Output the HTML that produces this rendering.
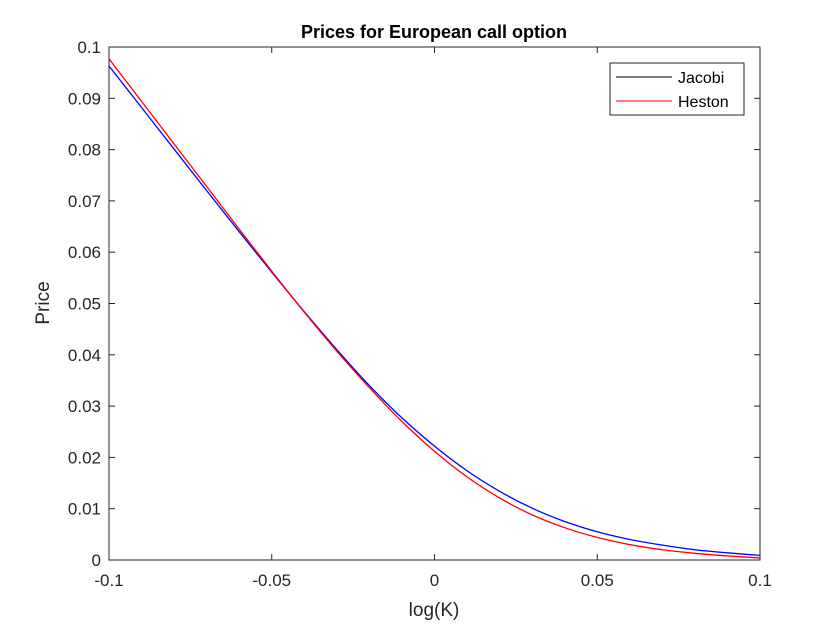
<!DOCTYPE html>
<html><head><meta charset="utf-8"><style>
body{margin:0;background:#fff;width:840px;height:630px;overflow:hidden}
text{font-family:"Liberation Sans",Arial,sans-serif;fill:#262626}
</style></head><body>
<svg id="c" width="840" height="630" xmlns="http://www.w3.org/2000/svg"></svg>
<script>
const xs=[-0.1,-0.09,-0.08,-0.07,-0.06,-0.05,-0.04,-0.03,-0.02,-0.01,0,0.01,0.02,0.03,0.04,0.05,0.06,0.07,0.08,0.09,0.1];
const jacobi=[.0963,.0882,.0801,.0720,.0640,.0561,.0484,.0410,.0340,.0277,.0222,.0174,.0134,.0101,.0075,.0055,.0040,.0029,.0020,.0014,.0009];
const heston=[.0977,.0894,.0811,.0728,.0645,.0563,.0483,.0407,.0336,.0270,.0212,.0162,.0121,.0088,.0063,.0044,.0030,.0020,.0013,.0008,.0004];
const xTicks=[-0.1,-0.05,0,0.05,0.1];
const xTickLabels=["-0.1","-0.05","0","0.05","0.1"];
const yTicks=[0,0.01,0.02,0.03,0.04,0.05,0.06,0.07,0.08,0.09,0.1];
const yTickLabels=["0","0.01","0.02","0.03","0.04","0.05","0.06","0.07","0.08","0.09","0.1"];
const L=109,R=760,T=47,B=560;
const sx=v=>L+(v+0.1)/0.2*(R-L), sy=v=>B-v/0.1*(B-T);
const svg=document.getElementById('c'),NS='http://www.w3.org/2000/svg';
function mk(tag,attrs,parent){const e=document.createElementNS(NS,tag);for(const k in attrs)e.setAttribute(k,attrs[k]);(parent||svg).appendChild(e);return e;}
const frame=mk('rect',{x:L,y:T,width:R-L,height:B-T,fill:'#fff',stroke:'#262626','stroke-width':1});


xTicks.forEach((t,i)=>{const x=sx(t);
 mk('line',{x1:x,x2:x,y1:B,y2:B-6,stroke:'#262626'});mk('line',{x1:x,x2:x,y1:T,y2:T+6,stroke:'#262626'});
 const tx=mk('text',{x:x,y:B+26,'text-anchor':'middle','font-size':17});tx.textContent=xTickLabels[i];
 
 });
yTicks.forEach((t,i)=>{const y=sy(t);
 mk('line',{x1:L,x2:L+6,y1:y,y2:y,stroke:'#262626'});mk('line',{x1:R,x2:R-6,y1:y,y2:y,stroke:'#262626'});
 const tx=mk('text',{x:L-8,y:y+6,'text-anchor':'end','font-size':17});tx.textContent=yTickLabels[i];
 
 });
function path(ys){const p=xs.map((x,i)=>[sx(x),sy(ys[i])]);let d='M'+p[0][0]+','+p[0][1];
 for(let i=0;i<p.length-1;i++){const p0=p[Math.max(i-1,0)],p1=p[i],p2=p[i+1],p3=p[Math.min(i+2,p.length-1)];
  d+=' C'+(p1[0]+(p2[0]-p0[0])/6)+','+(p1[1]+(p2[1]-p0[1])/6)+' '+(p2[0]-(p3[0]-p1[0])/6)+','+(p2[1]-(p3[1]-p1[1])/6)+' '+p2[0]+','+p2[1];}
 return d;}
const l1=mk('path',{d:path(jacobi),fill:'none',stroke:'#0000ff','stroke-width':1.3});


const l2=mk('path',{d:path(heston),fill:'none',stroke:'#ff0000','stroke-width':1.3});


const title=mk('text',{x:434,y:38,'text-anchor':'middle','font-size':18,'font-weight':'bold',style:'fill:#000'});title.textContent='Prices for European call option';


const xl=mk('text',{x:434,y:616,'text-anchor':'middle','font-size':19});xl.textContent='log(K)';


const yl=mk('text',{x:0,y:0,'text-anchor':'middle','font-size':19,transform:'translate(49,303) rotate(-90)'});yl.textContent='Price';


const lg=mk('g',{});


mk('rect',{x:610,y:63,width:134,height:52,fill:'#fff',stroke:'#262626'},lg);
mk('line',{x1:616,x2:672,y1:77,y2:77,stroke:'#000'},lg);
mk('line',{x1:616,x2:672,y1:101,y2:101,stroke:'#ff0000'},lg);
const t1=mk('text',{x:678,y:83,'font-size':16,style:'fill:#000'},lg);t1.textContent='Jacobi';


const t2=mk('text',{x:678,y:107,'font-size':16,style:'fill:#000'},lg);t2.textContent='Heston';


</script>
</body></html>
